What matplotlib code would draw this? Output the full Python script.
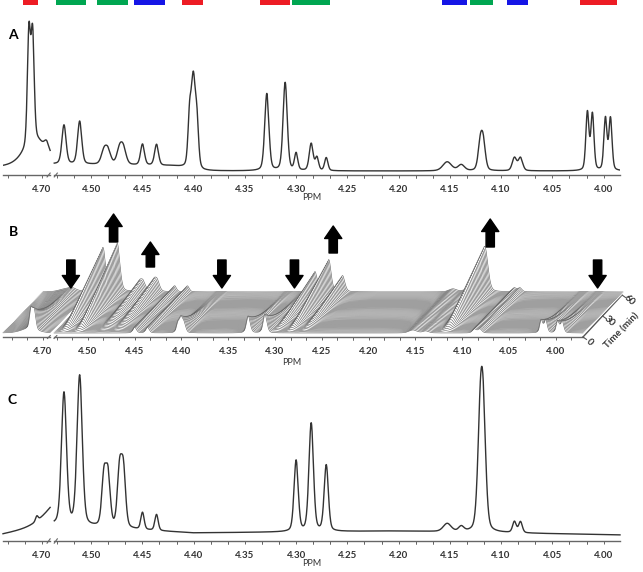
import numpy as np
import matplotlib
matplotlib.use('Agg')
import matplotlib.pyplot as plt
import matplotlib.transforms as mtransforms
from matplotlib.ticker import FixedLocator, FuncFormatter

plt.rcParams['font.family'] = ['Lato', 'DejaVu Sans']
plt.rcParams['font.weight'] = 'bold'

# colour bars above panel A (ppm ranges)
bar_lo = [4.7039, 4.5046, 4.4645, 4.4284, 4.3911, 4.3062, 4.2670, 4.1330, 4.1076, 4.0736, 3.9865]
bar_hi = [4.7186, 4.5340, 4.4939, 4.4577, 4.4117, 4.3355, 4.3042, 4.1574, 4.1301, 4.0941, 4.0227]
bar_col = ['#ed1c24', '#00a651', '#00a651', '#1515e6', '#ed1c24', '#ed1c24',
           '#00a651', '#1515e6', '#00a651', '#1515e6', '#ed1c24']

# panel A: starting spectrum (ppm, height, fwhm)
a_ppm = [4.7127, 4.7091, 4.706, 4.6955, 4.5265, 4.5112, 4.4875, 4.4835, 4.4723, 4.4685,
         4.4499, 4.4362, 4.4039, 4.4003, 4.3968, 4.3286, 4.3107, 4.3000, 4.2853, 4.2797,
         4.2706, 4.1526, 4.1389, 4.1203, 4.1174, 4.0870, 4.0811, 4.0158, 4.0109, 3.9982, 3.9933]
a_h = [112, 106, 24, 8, 39, 43, 13, 13, 15, 15,
       21, 21, 50, 86, 44, 77, 88, 17, 27, 13,
       13, 9, 6, 26, 26, 13, 13, 58, 56, 52, 52]
a_fw = [0.0036, 0.0036, 0.026, 0.005, 0.0048, 0.0048, 0.0062, 0.0062, 0.0062, 0.0062,
        0.0045, 0.0045, 0.0038, 0.0045, 0.0038, 0.0048, 0.0048, 0.0038, 0.0045, 0.0038,
        0.0038, 0.010, 0.0075, 0.005, 0.005, 0.005, 0.005, 0.0036, 0.0036, 0.0036, 0.0036]
a_base_ppm = [3.98, 4.39, 4.42, 4.54, 4.69, 4.74]
a_base = [-1, -1, 4, 6, 6, 3]

# panel C: final spectrum
c_ppm = [4.675, 4.705, 4.5265, 4.5112, 4.4875, 4.4835, 4.4723, 4.4685, 4.4499, 4.4362,
         4.3000, 4.2853, 4.2706, 4.1526, 4.1389, 4.1203, 4.1174, 4.0870, 4.0811]
c_h = [30, 5, 132, 150, 50, 50, 56, 56, 17, 16,
       71, 108, 66, 8, 5, 99, 99, 11, 11]
c_fw = [0.04, 0.003, 0.0058, 0.006, 0.005, 0.005, 0.005, 0.005, 0.0038, 0.0038,
        0.0048, 0.0052, 0.0048, 0.009, 0.006, 0.006, 0.006, 0.0042, 0.0042]
c_base_ppm = [3.98, 4.20, 4.40, 4.54, 4.69, 4.74]
c_base = [-8, -4, -6, 2, 2, -8]

# panel B: kinetics, heights of the front (t=0) and back (t=60 min) traces
b_grow_ppm = [4.5265, 4.5112, 4.4875, 4.4835, 4.4723, 4.4685, 4.3000, 4.2853, 4.2706, 4.1203, 4.1174]
b_grow_h = [44, 48, 9, 9, 10, 10, 20, 32, 16, 26, 26]
b_grow_fw = [0.0065, 0.0065, 0.0058, 0.0058, 0.0058, 0.0058, 0.0058, 0.0058, 0.0058, 0.007, 0.007]
b_fall_ppm = [4.7127, 4.7091, 4.4039, 4.4003, 4.3968, 4.3286, 4.3107, 4.0158, 4.0109, 3.9982, 3.9933]
b_fall_h = [20, 19, 9, 15, 8, 17, 19, 13, 13, 12, 12]
b_fall_fw = [0.004, 0.004, 0.004, 0.0045, 0.004, 0.005, 0.005, 0.004, 0.004, 0.004, 0.004]
b_const_ppm = [4.715, 4.4499, 4.4362, 4.1526, 4.1389, 4.0870, 4.0811]
b_const_h = [4, 6, 6, 3, 2, 4, 4]
b_const_fw = [0.02, 0.0045, 0.0045, 0.01, 0.0075, 0.005, 0.005]
fall_tau = 0.3
n_traces = 40
time_labels = ['0', '30', '60']

# arrows in B (ppm, tail y, head y)
arrow_ppm = [4.518, 4.4724, 4.4331, 4.3567, 4.2792, 4.2378, 4.0701, 3.9554]
arrow_tail = [73, 91, 66, 73, 73, 80, 86, 73]
arrow_head = [45, 119, 91, 45, 45, 107, 114, 45]

major_ticks = [4.70, 4.50, 4.45, 4.40, 4.35, 4.30, 4.25, 4.20, 4.15, 4.10, 4.05, 4.00]
minor_ticks = [4.70 + i / 60 for i in (1, 2)] + \
              [m + i / 60 for m in major_ticks[1:] for i in (-2, -1, 1, 2)]

# broken ppm axis: 4.692..4.536 squeezed into a small gap
brk = ([3.0, 4.536, 4.540, 5.348], [3.0, 4.536, 4.692, 5.5])


def fwd(p):
    return np.interp(p, brk[1], brk[0])


def inv(u):
    return np.interp(u, brk[0], brk[1])


def spec(x, ppm, h, fw):
    y = np.zeros_like(x)
    for p, hh, f in zip(ppm, h, fw):
        d = 4 * (x - p) ** 2 / f ** 2
        y += hh * (0.7 * np.exp(-np.log(2) * d) + 0.3 / (1 + d))
    return y


def style(ax, xl, xr, ylo, yhi):
    ax.patch.set_visible(False)
    ax.set_xscale('function', functions=(fwd, inv))
    ax.set_xlim(xl, xr)
    ax.set_ylim(ylo, yhi)
    ax.set_yticks([])
    for s in ax.spines.values():
        s.set_visible(False)
    ax.xaxis.set_major_locator(FixedLocator(major_ticks))
    ax.xaxis.set_minor_locator(FixedLocator([t for t in minor_ticks if xr <= t <= xl]))
    ax.xaxis.set_major_formatter(FuncFormatter(lambda v, pos: '%.2f' % v))
    ax.tick_params(axis='x', which='both', direction='out', length=2.5, width=0.7,
                   color='#666666', labelsize=7, labelcolor='#333333', pad=5)
    tr = ax.get_xaxis_transform()
    ax.plot([xl, 4.692], [0, 0], transform=tr, color='#666666', lw=1.0, clip_on=False)
    ax.plot([4.536, xr], [0, 0], transform=tr, color='#666666', lw=1.0, clip_on=False)
    for p in (4.6935, 4.5345):
        ax.plot([p + 0.0015, p - 0.0015], [-0.012, 0.012], transform=tr,
                color='#666666', lw=0.8, clip_on=False)
    ax.set_xlabel('PPM', fontsize=6.5, color='#333333')


fig = plt.figure(figsize=(6.43, 5.72), dpi=100)
W, H = 643, 572

# ---- panel A ----
axA = fig.add_axes([3 / W, (H - 175) / H, 617 / W, 160 / H])
xl_a = np.linspace(4.692, 4.738, 300)
xr_a = np.linspace(3.984, 4.536, 2500)
for xs in (xl_a, xr_a):
    axA.plot(xs, spec(xs, a_ppm, a_h, a_fw) + np.interp(xs, a_base_ppm, a_base),
             color='#333333', lw=1.0)
axA.bar(bar_lo, 10, width=np.array(bar_hi) - np.array(bar_lo), bottom=165,
        align='edge', color=bar_col, clip_on=False)
style(axA, 4.738, 3.984, -5, 155)
axA.xaxis.set_label_coords(0.5, -0.11)
axA.text(0.008, 0.875, 'A', transform=axA.transAxes, fontsize=10, ha='left', va='center')

# ---- panel B ----
axB = fig.add_axes([3 / W, (H - 337) / H, 580 / W, 122 / H])
style(axB, 4.7425, 3.971, -4, 118)
axB.xaxis.set_label_coords(0.497, -0.17)
xl_b = np.linspace(4.692, 4.7425, 300)
xr_b = np.linspace(3.971, 4.536, 2500)
dx_in, dy_in = 0.40 / (n_traces - 1), 0.41 / (n_traces - 1)
for k in range(n_traces - 1, -1, -1):
    t = k / (n_traces - 1)
    tr = axB.transData + mtransforms.ScaledTranslation(k * dx_in, k * dy_in, fig.dpi_scale_trans)
    z = 2 + (n_traces - k) * 0.01
    for xs in (xl_b, xr_b):
        y = (spec(xs, b_grow_ppm, np.array(b_grow_h) * t, b_grow_fw)
             + spec(xs, b_fall_ppm, np.array(b_fall_h) * np.exp(-t / fall_tau), b_fall_fw)
             + spec(xs, b_const_ppm, b_const_h, b_const_fw))
        axB.fill_between(xs, -1.2, y, transform=tr, color='white', lw=0, zorder=z, clip_on=False)
        axB.plot(xs, y, transform=tr, color='#666666', lw=0.45, zorder=z + 0.001, clip_on=False)

for p, y0, y1 in zip(arrow_ppm, arrow_tail, arrow_head):
    axB.annotate('', xy=(p, y1), xytext=(p, y0), annotation_clip=False, zorder=10,
                 arrowprops=dict(arrowstyle='simple,head_width=0.62,head_length=0.45,tail_width=0.3',
                                 mutation_scale=20, color='black', shrinkA=0, shrinkB=0))

# time axis of the stack
ex, ey = 1 + 39 / 580, 42 / 122
axB.plot([1, ex], [0, ey], transform=axB.transAxes, color='#555555', lw=1.0, clip_on=False)
for i, lab in enumerate(time_labels):
    f = i / (len(time_labels) - 1)
    px, py = 1 + f * (ex - 1), f * ey
    axB.plot([px, px + 0.006], [py, py - 0.02], transform=axB.transAxes, color='#555555',
             lw=0.8, clip_on=False)
    axB.text(px + 0.012, py - 0.04, lab, transform=axB.transAxes, fontsize=7, rotation=-44,
             ha='center', va='center', color='#333333')
axB.text(1.067, 0.05, 'Time (min)', transform=axB.transAxes, fontsize=7, rotation=46,
         ha='center', va='center', color='#333333')
axB.text(0.01, 0.86, 'B', transform=axB.transAxes, fontsize=10, ha='left', va='center')

# ---- panel C ----
axC = fig.add_axes([3 / W, (H - 541) / H, 617 / W, 179 / H])
xl_c = np.linspace(4.692, 4.738, 300)
xr_c = np.linspace(3.984, 4.536, 2500)
for xs in (xl_c, xr_c):
    axC.plot(xs, spec(xs, c_ppm, c_h, c_fw) + np.interp(xs, c_base_ppm, c_base),
             color='#333333', lw=1.0, clip_on=False)
style(axC, 4.738, 3.984, -14, 165)
axC.xaxis.set_label_coords(0.5, -0.10)
axC.text(0.008, 0.79, 'C', transform=axC.transAxes, fontsize=10, ha='left', va='center')

fig.savefig('out.png', dpi=100)
